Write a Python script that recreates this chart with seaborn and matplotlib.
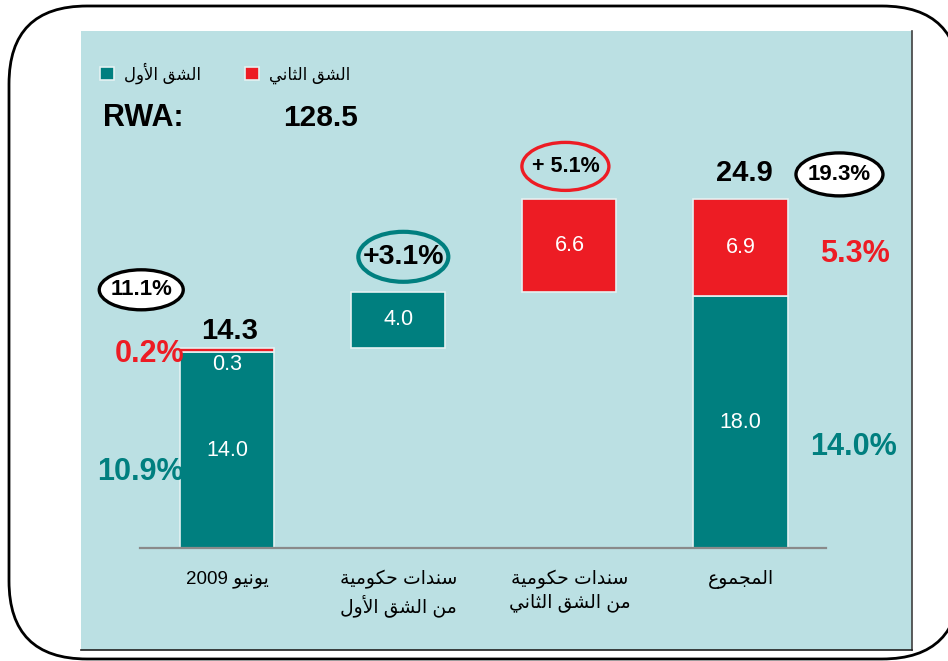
import re
import numpy as np
import pandas as pd
import matplotlib.pyplot as plt
import matplotlib.transforms as mtransforms
from matplotlib.patches import Ellipse, FancyBboxPatch, Rectangle
from matplotlib.lines import Line2D
import seaborn as sns

plt.rcParams['font.family'] = ['Liberation Sans', 'DejaVu Sans']

# chart data
steps = ["يونيو 2009", "سندات حكومية\nمن الشق الأول", "سندات حكومية\nمن الشق الثاني", "المجموع"]
step_kind = ["total", "delta", "delta", "total"]
tier_names = ["الشق الأول", "الشق الثاني"]
tier1 = [14.0, 4.0, 0.0, 18.0]
tier2 = [0.3, 0.0, 6.6, 6.9]
total_labels = ["14.3", "24.9"]
tier1_pct = ["10.9%", "14.0%"]
tier2_pct = ["0.2%", "5.3%"]
total_pct = ["11.1%", "19.3%"]
change_pct = ["+3.1%", "+ 5.1%"]
rwa = "128.5"

teal = "#007F7F"
red = "#ED1C24"
panel = "#BBE0E3"

# arabic letters -> presentation forms (isolated code; dual joiners have 4 forms)
dual = {'ت': 0xFE95, 'ث': 0xFE99, 'ج': 0xFE9D, 'ح': 0xFEA1, 'س': 0xFEB1, 'ش': 0xFEB5,
        'ع': 0xFEC9, 'ق': 0xFED5, 'ك': 0xFED9, 'ل': 0xFEDD, 'م': 0xFEE1, 'ن': 0xFEE5,
        'ي': 0xFEF1}
right = {'ا': 0xFE8D, 'أ': 0xFE83, 'ة': 0xFE93, 'د': 0xFEA9, 'و': 0xFEED}
lamalef = {'ا': 0xFEFB, 'أ': 0xFEF7}


def shape_line(s):
    out = []
    i = 0
    while i < len(s):
        c = s[i]
        prev = i > 0 and s[i - 1] in dual
        nxt = i + 1 < len(s) and (s[i + 1] in dual or s[i + 1] in right)
        if c == 'ل' and i + 1 < len(s) and s[i + 1] in lamalef:
            out.append(chr(lamalef[s[i + 1]] + (1 if prev else 0)))
            i += 2
            continue
        if c in dual:
            code = dual[c] + (3 if prev and nxt else 1 if prev else 2 if nxt else 0)
            out.append(chr(code))
        elif c in right:
            out.append(chr(right[c] + (1 if prev else 0)))
        else:
            out.append(c)
        i += 1
    vis = ''.join(out)[::-1]
    return re.sub(r'[0-9.%+]+', lambda m: m.group(0)[::-1], vis)


def shape(s):
    return '\n'.join(shape_line(p) for p in s.split('\n'))


# waterfall bottoms
bottom1, bottom2 = [], []
running = 0.0
for k, a, b in zip(step_kind, tier1, tier2):
    start = 0.0 if k == "total" else running
    bottom1.append(start)
    bottom2.append(start + a)
    running = start + a + b

df = pd.DataFrame({"step": steps, "tier1": tier1, "tier2": tier2,
                   "b1": bottom1, "b2": bottom2})

fig = plt.figure(figsize=(9.48, 6.61), dpi=100)
fig.add_artist(FancyBboxPatch((0.09, 0.02), 9.51, 6.53,
                              boxstyle="round,pad=0,rounding_size=0.78",
                              transform=fig.dpi_scale_trans, fc="white", ec="black",
                              lw=2, zorder=-3))
fig.add_artist(Rectangle((81 / 948, 11 / 661), 831 / 948, 619 / 661,
                         transform=fig.transFigure, fc=panel, ec="none", zorder=-2))
fig.add_artist(Line2D([912 / 948, 912 / 948], [11 / 661, 630 / 661],
                      transform=fig.transFigure, color="#404040", lw=1.2))
fig.add_artist(Line2D([81 / 948, 912 / 948], [11 / 661, 11 / 661],
                      transform=fig.transFigure, color="#202020", lw=1.2))

ax = fig.add_axes([140 / 948, 113 / 661, 686 / 948, 517 / 661])
ax.set_facecolor("none")

bar_kw = dict(x="step", order=steps, saturation=1, width=0.55, errorbar=None,
              edgecolor="#E4F1F2", linewidth=1.2, ax=ax)
d1 = df[df.tier1 > 0]
sns.barplot(data=d1, y="tier1", bottom=d1.b1.to_numpy(), color=teal, **bar_kw)
d2 = df[df.tier2 > 0]
sns.barplot(data=d2, y="tier2", bottom=d2.b2.to_numpy(), color=red, **bar_kw)

ax.set_xlim(-0.51, 3.50)
ax.set_ylim(0, 517 / 14)
ax.set_xlabel("")
ax.set_ylabel("")
ax.set_yticks([])
ax.set_xticks(range(len(steps)), [shape(s) for s in steps])
ax.tick_params(axis="x", length=0, pad=16, labelsize=13.5)
for lbl in ax.get_xticklabels():
    lbl.set_linespacing(1.3)
for side in ["left", "top", "right"]:
    ax.spines[side].set_visible(False)
ax.spines["bottom"].set_color("#8A8A8A")
ax.spines["bottom"].set_linewidth(1.6)

# values inside the bars
for i in range(len(steps)):
    if tier1[i] > 0:
        ax.text(i, bottom1[i] + tier1[i] / 2, f"{tier1[i]:.1f}", color="white",
                fontsize=15.5, ha="center", va="center")
    if tier2[i] > 1:
        ax.text(i, bottom2[i] + tier2[i] / 2, f"{tier2[i]:.1f}", color="white",
                fontsize=15.5, ha="center", va="center")
    elif tier2[i] > 0:
        ax.annotate(f"{tier2[i]:.1f}", (i, bottom2[i]), xytext=(0, -12),
                    textcoords="offset pixels", color="white", fontsize=15.5,
                    ha="center", va="center")

half = 0.275
top0 = bottom2[0] + tier2[0]
top3 = bottom2[3] + tier2[3]


def note(text, xy, off, color, ha="center", size=22):
    ax.annotate(text, xy, xytext=off, textcoords="offset pixels", color=color,
                fontsize=size, fontweight="bold", ha=ha, va="center",
                annotation_clip=False, zorder=5)


def ring(x, y, dx, dy, w, h, edge, face, text, size, lw):
    trans = fig.dpi_scale_trans + mtransforms.ScaledTranslation(x, y, ax.transData)
    ax.add_patch(Ellipse((dx / 100, dy / 100), w / 100, h / 100, transform=trans,
                         facecolor=face, edgecolor=edge, linewidth=lw,
                         clip_on=False, zorder=4))
    note(text, (x, y), (dx, dy), "black", size=size)


note(total_labels[0], (0, top0), (2, 17), "black", size=21)
note(total_labels[1], (3, top3), (4, 26), "black", size=21)
note(tier2_pct[0], (-half, top0), (4, -6), red, ha="right")
note(tier1_pct[0], (-half, tier1[0] * 0.39), (4, 0), teal, ha="right")
note(tier2_pct[1], (3 + half, bottom2[3] + tier2[3] * 0.43), (33, 0), red, ha="left")
note(tier1_pct[1], (3 + half, tier1[3] * 0.40), (23, 0), teal, ha="left")

ring(0, top0, -86, 58, 84, 40, "black", "white", total_pct[0], 16, 2.4)
ring(3, top3, 99, 25, 87, 43, "black", "white", total_pct[1], 16, 2.4)
ring(1, bottom1[1] + tier1[1], 5, 35, 90, 50, teal, "none", change_pct[0], 20.5, 3)
ring(2, bottom2[2] + tier2[2], -4, 33, 87, 48, red, "none", change_pct[1], 15.5, 2.4)

# legend and RWA header
ax.legend(handles=ax.containers[:2], labels=[shape(t) for t in tier_names],
          loc="center left", bbox_to_anchor=(100 / 948, 1 - 73 / 661),
          bbox_transform=fig.transFigure, ncol=2, frameon=False, fontsize=12,
          handlelength=0.85, handleheight=0.85, handletextpad=0.6,
          columnspacing=2.6, borderaxespad=0, borderpad=0)
fig.text(103 / 948, 1 - 118 / 661, "RWA:", fontsize=22, fontweight="bold", va="center")
fig.text(283 / 948, 1 - 118 / 661, rwa, fontsize=21.5, fontweight="bold", va="center")

fig.savefig("out.png", dpi=100)
